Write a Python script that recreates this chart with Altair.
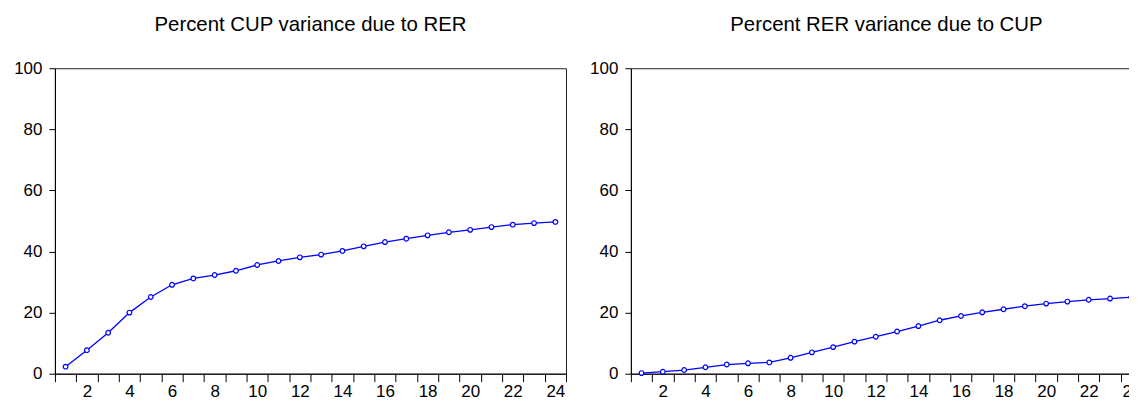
import altair as alt
import pandas as pd

periods = list(range(1, 25))
cup_due_rer = [2.3, 7.7, 13.4, 20.0, 25.1, 29.1, 31.2, 32.3, 33.7, 35.6, 36.9, 38.1,
               39.0, 40.2, 41.7, 43.1, 44.2, 45.3, 46.3, 47.1, 48.0, 48.8, 49.3, 49.7]
rer_due_cup = [0.2, 0.65, 1.2, 2.1, 3.0, 3.4, 3.7, 5.2, 7.0, 8.7, 10.5, 12.1,
               13.8, 15.6, 17.5, 18.9, 20.1, 21.1, 22.1, 22.95, 23.6, 24.2, 24.6, 25.0]
titles = ["Percent CUP variance due to RER", "Percent RER variance due to CUP"]
y_ticks = [0, 20, 40, 60, 80, 100]

W = 512
H = 306
FONT = "Liberation Sans"


def panel(values, title):
    df = pd.DataFrame({"period": periods, "value": values})
    x = alt.X(
        "period:O",
        sort=periods,
        scale=alt.Scale(type="band", paddingInner=0, paddingOuter=0),
        axis=alt.Axis(
            tickBand="extent",
            labelExpr="datum.value % 2 == 0 ? datum.label : ''",
            tickSize=8,
            labelPadding=2,
            labelOverlap=False,
            labelAngle=0,
            labelAlign="center",
            labelBaseline="top",
            title=None,
            grid=False,
        ),
    )
    y = alt.Y(
        "value:Q",
        scale=alt.Scale(domain=[0, 100], nice=False),
        axis=alt.Axis(
            values=y_ticks,
            tickSize=6,
            labelPadding=7,
            title=None,
            grid=False,
            minExtent=44,
            maxExtent=44,
        ),
    )
    line = alt.Chart(df).mark_line(color="#0000ff", strokeWidth=1.3).encode(x=x, y=y)
    pts = alt.Chart(df).mark_point(
        shape="circle", size=22, filled=True, fill="white", stroke="#0000ff",
        strokeWidth=1.2, opacity=1
    ).encode(x=x, y=y)
    return alt.layer(line, pts).properties(
        width=W,
        height=H,
        title=alt.TitleParams(
            title, fontSize=20.4, font=FONT, fontWeight="normal", color="#000000",
            offset=24, anchor="middle",
        ),
    )


chart = alt.hconcat(
    panel(cup_due_rer, titles[0]),
    panel(rer_due_cup, titles[1]),
    spacing=19,
).properties(
    padding={"left": 2, "top": 6, "right": -14, "bottom": 0},
    background="white",
).configure_view(
    stroke="#222222", strokeWidth=1
).configure_axis(
    domainColor="#000000",
    tickColor="#000000",
    labelColor="#000000",
    labelFont=FONT,
    labelFontSize=17,
    domainWidth=1,
    tickWidth=1,
)

chart.save("out.html", embed_options={"renderer": "svg", "actions": False})
